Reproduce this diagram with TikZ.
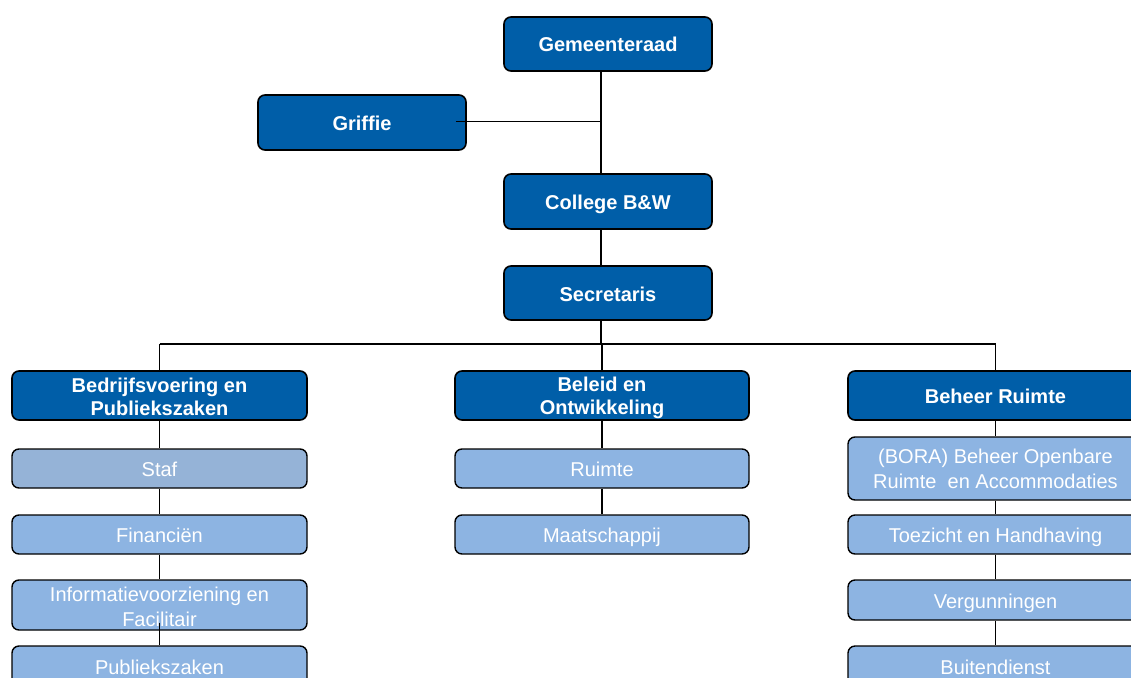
\documentclass[tikz,border=0pt]{standalone}
\usepackage{fontspec}
\setmainfont{Liberation Sans}
\definecolor{darkb}{HTML}{005EA8}
\definecolor{lightb}{HTML}{8DB4E2}
\definecolor{greyb}{HTML}{95B3D7}
\begin{document}
\begin{tikzpicture}[x=1pt,y=-1pt,
  box/.style={draw=black,line width=1.6pt,rounded corners=7pt,inner sep=0pt,text=white,align=center},
  one/.style={text height=16pt,text depth=0pt},
  dark/.style={box,fill=darkb,font=\fontsize{20}{22.5}\selectfont\bfseries},
  light/.style={box,fill=lightb,line width=1.4pt,font=\fontsize{20}{24.5}\selectfont},
  grey/.style={box,fill=greyb,line width=1.4pt,font=\fontsize{20}{24.5}\selectfont},
  conn/.style={draw=black,line width=1.6pt}]
\useasboundingbox (0,0) rectangle (1131,677);
\coordinate (spine) at (601,0);
\coordinate (bus) at (0,344);
% top
\node[dark,one,minimum width=208pt,minimum height=54pt] (gem) at (608,44) {Gemeenteraad};
\node[dark,one,minimum width=208pt,minimum height=55pt] (grif) at (362,122.5) {Griffie};
\node[dark,one,minimum width=208pt,minimum height=55pt] (coll) at (608,201.5) {College B\&W};
\node[dark,one,minimum width=208pt,minimum height=54pt] (secr) at (608,293) {Secretaris};
% level 2
\node[dark,text height=39pt,text depth=0pt,minimum width=295pt,minimum height=49pt] (bedr) at (159.5,395.5) {Bedrijfsvoering en\\Publiekszaken};
\node[dark,text height=37pt,text depth=0pt,minimum width=294pt,minimum height=49pt] (bel) at (602,395.5) {Beleid en\\Ontwikkeling};
\node[dark,one,minimum width=295pt,minimum height=49pt] (beh) at (995.5,395.5) {Beheer Ruimte};
% left column
\node[grey,one,minimum width=295pt,minimum height=39pt] (staf) at (159.5,468.5) {Staf};
\node[light,one,minimum width=295pt,minimum height=39pt] (fin) at (159.5,534.5) {Financiën};
\node[light,text height=42pt,text depth=0pt,minimum width=295pt,minimum height=50pt] (info) at (159.5,605) {Informatievoorziening en\\Facilitair};
\node[light,one,minimum width=295pt,minimum height=40pt] (publ) at (159.5,666) {Publiekszaken};
% middle column
\node[light,one,minimum width=294pt,minimum height=39pt] (ruim) at (602,468.5) {Ruimte};
\node[light,one,minimum width=294pt,minimum height=39pt] (maat) at (602,534.5) {Maatschappij};
% right column
\node[light,text height=39pt,text depth=0pt,minimum width=295pt,minimum height=63pt] (bora) at (995.5,468.5) {(BORA) Beheer Openbare\\Ruimte\ \ en Accommodaties};
\node[light,one,minimum width=295pt,minimum height=39pt] (toez) at (995.5,534.5) {Toezicht en Handhaving};
\node[light,one,minimum width=295pt,minimum height=40pt] (verg) at (995.5,600) {Vergunningen};
\node[light,one,minimum width=295pt,minimum height=40pt] (buit) at (995.5,666) {Buitendienst};
% connectors
\draw[conn] (gem.south -| spine) -- (coll.north -| spine);
\draw[conn] ([xshift=-11pt,yshift=1pt]grif.east) -- ([yshift=1pt]grif.east -| spine);
\draw[conn] (coll.south -| spine) -- (secr.north -| spine);
\draw[conn] (secr.south -| spine) -- (bus -| spine);
\draw[conn] (bus -| bedr.north) -- (bus -| beh.north);
\draw[conn] (bus -| bedr.north) -- (bedr.north);
\draw[conn] (bus -| bel.north) -- (bel.north);
\draw[conn] (bus -| beh.north) -- (beh.north);
\draw[conn] (bedr.south) -- (staf.north);
\draw[conn] (staf.south) -- (fin.north);
\draw[conn] (fin.south) -- (info.north);
\draw[conn] ([yshift=8pt]info.south) -- (publ.north);
\draw[conn] (bel.south) -- (ruim.north);
\draw[conn] (ruim.south) -- (maat.north);
\draw[conn] (beh.south) -- (bora.north);
\draw[conn] (bora.south) -- (toez.north);
\draw[conn] (toez.south) -- (verg.north);
\draw[conn] (verg.south) -- (buit.north);
\end{tikzpicture}
\end{document}
